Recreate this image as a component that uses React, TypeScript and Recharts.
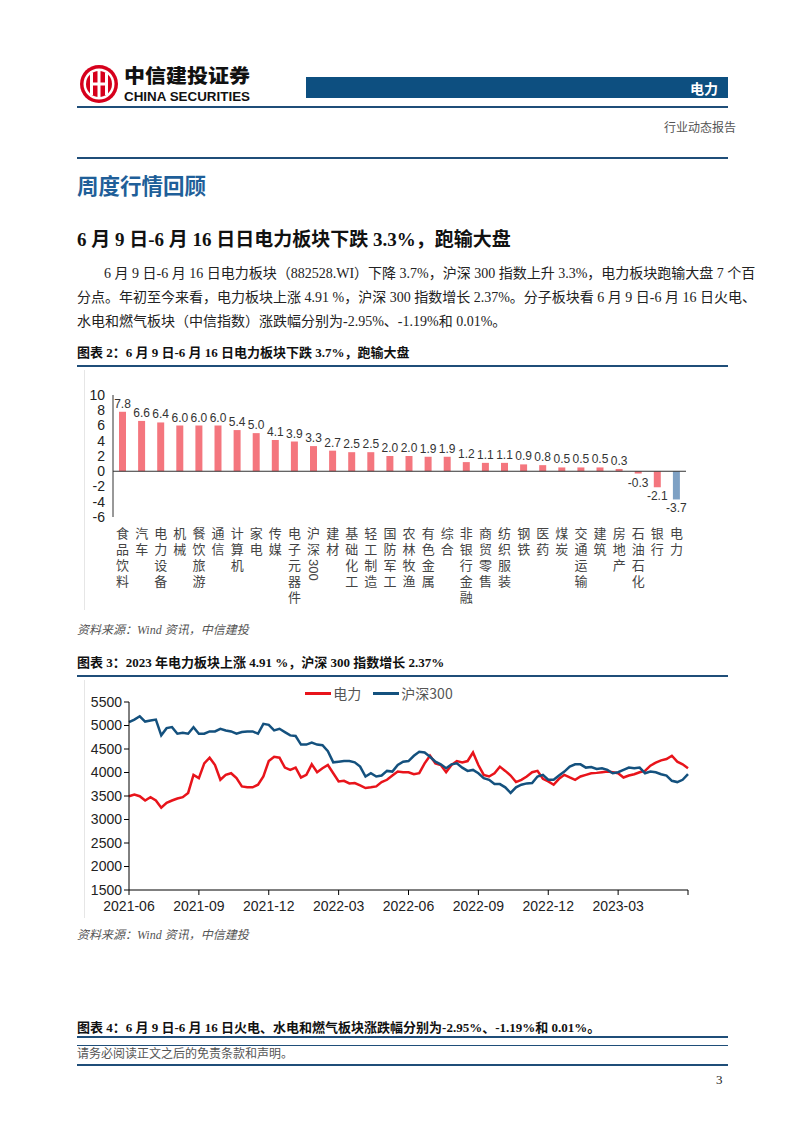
import React from "react";
import { BarChart, Bar, XAxis, YAxis, Cell, LabelList, ReferenceLine, LineChart, Line, Legend } from "recharts";

// 图表2: 行业周涨跌幅 (%)
const SECTORS = [
  "食品饮料", "汽车", "电力设备", "机械", "餐饮旅游", "通信", "计算机", "家电", "传媒", "电子元器件",
  "沪深300", "建材", "基础化工", "轻工制造", "国防军工", "农林牧渔", "有色金属", "综合", "非银行金融", "商贸零售",
  "纺织服装", "钢铁", "医药", "煤炭", "交通运输", "建筑", "房地产", "石油石化", "银行", "电力",
];
const WEEKLY_CHANGE = [
  7.8, 6.6, 6.4, 6.0, 6.0, 6.0, 5.4, 5.0, 4.1, 3.9,
  3.3, 2.7, 2.5, 2.5, 2.0, 2.0, 1.9, 1.9, 1.2, 1.1,
  1.1, 0.9, 0.8, 0.5, 0.5, 0.5, 0.3, -0.3, -2.1, -3.7,
];
const HIGHLIGHT = "电力";
const BAR_TICKS = [-6, -4, -2, 0, 2, 4, 6, 8, 10];

// 图表3: 周度收盘 (2021-06-16 ~ 2023-06-16)
const DIANLI = [
  3495, 3530, 3495, 3404, 3474, 3404, 3250, 3355, 3404, 3446,
  3474, 3565, 3950, 3880, 4195, 4314, 4160, 3845, 3950, 3985,
  3880, 3705, 3684, 3684, 3740, 3915, 4244, 4335, 4314, 4104,
  4055, 4104, 3894, 3950, 4174, 4006, 4090, 4160, 3985, 3810,
  3824, 3768, 3775, 3726, 3670, 3684, 3705, 3796, 3845, 3936,
  4020, 4006, 4006, 3964, 3985, 4195, 4356, 4195, 4160, 4006,
  4160, 4244, 4216, 4244, 4426, 4160, 3950, 3915, 3985, 4125,
  4034, 3936, 3796, 3845, 3915, 4006, 4034, 3866, 3810, 3740,
  3866, 3950, 3894, 3845, 3915, 3950, 3985, 3992, 4006, 4020,
  4006, 3985, 3894, 3936, 3964, 4006, 4034, 4146, 4209, 4258,
  4286, 4356, 4230, 4174, 4090,
];
const HS300 = [
  5070, 5126, 5196, 5084, 5105, 5126, 4790, 4944, 4965, 4825,
  4846, 4825, 4965, 4825, 4825, 4874, 4874, 4930, 4895, 4874,
  4825, 4860, 4874, 4874, 4825, 5035, 5014, 4895, 4930, 4860,
  4790, 4776, 4594, 4594, 4636, 4594, 4580, 4454, 4216, 4230,
  4244, 4244, 4216, 4125, 3915, 3985, 3915, 3936, 4034, 4020,
  4160, 4230, 4244, 4356, 4440, 4426, 4335, 4230, 4174, 4090,
  4174, 4195, 4104, 4034, 4055, 3985, 3880, 3845, 3754, 3754,
  3684, 3565, 3684, 3740, 3768, 3775, 3915, 3950, 3845, 3845,
  3936, 4020, 4125, 4174, 4174, 4104, 4118, 4076, 4090, 4055,
  3985, 4006, 4055, 4104, 4090, 4104, 3985, 4020, 4006, 3964,
  3936, 3824, 3796, 3845, 3964,
];
const QUARTER_TICKS = [0, 13, 26, 39, 52, 65, 78, 91, 104];
const QUARTER_LABELS = ["2021-06", "2021-09", "2021-12", "2022-03", "2022-06", "2022-09", "2022-12", "2023-03", ""];
const LINE_Y_TICKS = [1500, 2000, 2500, 3000, 3500, 4000, 4500, 5000, 5500];

const SERIF = "'Liberation Serif', 'Noto Sans CJK SC', serif";
const HEI = "'Noto Sans CJK SC', sans-serif";
const ARIAL = "'Liberation Sans', Arial, sans-serif";
const NAVY = "#1F4E79";

const barData = SECTORS.map((name, i) => ({ name, value: WEEKLY_CHANGE[i] }));
const lineData = DIANLI.map((v, i) => ({ week: i, dianli: v, hs300: HS300[i] }));

function Txt({ x, y, size, children, style }: any) {
  return (
    <div style={{ position: "absolute", left: x, top: y - size / 2, fontSize: size, lineHeight: `${size}px`, whiteSpace: "nowrap", ...style }}>
      {children}
    </div>
  );
}

function HLine({ y, w = 1, color = NAVY }: any) {
  return <div style={{ position: "absolute", left: 77, width: 651, top: y - w / 2, height: w, background: color }} />;
}

// 竖排类目标签，数字部分侧转且不加字距
function VerticalTick(props: any) {
  const { x, y, payload } = props;
  const parts: string[] = String(payload.value).match(/[0-9]+|[^0-9]+/g) || [];
  return (
    <text x={x} y={y + 10} fill="#444" fontSize={13} fontFamily={HEI} style={{ writingMode: "vertical-rl", letterSpacing: 3 }}>
      {parts.map((p, i) =>
        /^[0-9]+$/.test(p) ? (
          <tspan key={i} fontFamily={ARIAL} style={{ letterSpacing: 0 }}>
            {p}
          </tspan>
        ) : (
          <tspan key={i}>{p}</tspan>
        )
      )}
    </text>
  );
}

function ValueLabel(props: any) {
  const x = Number(props.x), y = Number(props.y), w = Number(props.width), h = Number(props.height);
  const v = Number(props.value);
  const top = Math.min(y, y + h);
  const bottom = Math.max(y, y + h);
  return (
    <text x={x + w / 2} y={v < 0 ? bottom + 13 : top - 4} textAnchor="middle" fontSize={12} fill="#333" fontFamily={ARIAL}>
      {v.toFixed(1)}
    </text>
  );
}

function LineLegend() {
  const items = [
    { name: "电力", color: "#E8141B" },
    { name: "沪深300", color: "#14517E" },
  ];
  return (
    <div style={{ display: "flex", justifyContent: "center", height: 18, lineHeight: "18px", fontFamily: HEI, fontSize: 14, color: "#555" }}>
      {items.map((it) => (
        <div key={it.name} style={{ display: "flex", alignItems: "center", margin: "0 6px" }}>
          <span style={{ display: "inline-block", width: 26, height: 3, background: it.color, marginRight: 2 }} />
          <span>{it.name}</span>
        </div>
      ))}
    </div>
  );
}

function Logo() {
  return (
    <svg style={{ position: "absolute", left: 76, top: 60 }} width={190} height={48}>
      <circle cx={23} cy={24} r={19} fill="#D6001C" />
      <circle cx={23} cy={24} r={15.5} fill="#fff" />
      <circle cx={23} cy={24} r={13} fill="#D6001C" />
      <rect x={14} y={13} width={3} height={22} fill="#fff" />
      <rect x={29} y={13} width={3} height={22} fill="#fff" />
      <rect x={21.5} y={10} width={3} height={28} fill="#fff" />
      <rect x={14} y={22.5} width={18} height={3} fill="#fff" />
      <text x={48} y={23} fontFamily={HEI} fontWeight={900} fontSize={19} fill="#111" textLength={126} lengthAdjust="spacingAndGlyphs">
        中信建投证券
      </text>
      <text x={48} y={41} fontFamily={ARIAL} fontWeight={700} fontSize={12.5} fill="#111" textLength={126} lengthAdjust="spacingAndGlyphs">
        CHINA SECURITIES
      </text>
    </svg>
  );
}

export default function App() {
  return (
    <div style={{ position: "absolute", left: 0, top: 0, width: 802, height: 1133, background: "#fff", overflow: "hidden" }}>
      <Logo />
      <div style={{ position: "absolute", left: 306, top: 77, width: 422, height: 21, background: "#0D4F80" }} />
      <Txt x={690} y={88} size={14} style={{ color: "#fff", fontFamily: HEI, fontWeight: 700 }}>电力</Txt>
      <HLine y={107} w={1.5} />
      <Txt x={664} y={128} size={12} style={{ color: "#555", fontFamily: SERIF }}>行业动态报告</Txt>
      <HLine y={158} w={2} />
      <Txt x={77} y={185} size={21.5} style={{ color: "#1F5F99", fontFamily: HEI, fontWeight: 700 }}>周度行情回顾</Txt>
      <Txt x={77} y={239} size={19} style={{ color: "#111", fontFamily: SERIF, fontWeight: 700 }}>
        6 月 9 日-6 月 16 日日电力板块下跌 3.3%，跑输大盘
      </Txt>

      <div style={{ position: "absolute", left: 104, width: 621, top: 264, fontSize: 14, lineHeight: "20px", fontFamily: SERIF, color: "#222", textAlign: "justify", textAlignLast: "justify", whiteSpace: "nowrap" }}>
        6 月 9 日-6 月 16 日电力板块（882528.WI）下降 3.7%，沪深 300 指数上升 3.3%，电力板块跑输大盘 7 个百
      </div>
      <div style={{ position: "absolute", left: 77, width: 648, top: 288, fontSize: 14, lineHeight: "20px", fontFamily: SERIF, color: "#222", textAlign: "justify", textAlignLast: "justify", whiteSpace: "nowrap" }}>
        分点。年初至今来看，电力板块上涨 4.91 %，沪深 300 指数增长 2.37%。分子板块看 6 月 9 日-6 月 16 日火电、
      </div>
      <div style={{ position: "absolute", left: 77, top: 312, fontSize: 14, lineHeight: "20px", fontFamily: SERIF, color: "#222", whiteSpace: "nowrap" }}>
        水电和燃气板块（中信指数）涨跌幅分别为-2.95%、-1.19%和 0.01%。
      </div>

      <Txt x={77} y={352} size={13} style={{ color: "#111", fontFamily: SERIF, fontWeight: 700 }}>
        图表 2：6 月 9 日-6 月 16 日电力板块下跌 3.7%，跑输大盘
      </Txt>
      <HLine y={366} w={2.5} />
      <div style={{ position: "absolute", left: 84, top: 370, width: 1, height: 240, background: "#e6e6e6" }} />

      <div style={{ position: "absolute", left: 60, top: 370 }}>
        <BarChart width={640} height={237} data={barData} margin={{ top: 25, right: 14, bottom: 0, left: 0 }} barSize={7}>
          <XAxis dataKey="name" interval={0} axisLine={false} tickLine={false} tickSize={0} tickMargin={0} height={90} tick={(p: any) => <VerticalTick {...p} />} />
          <YAxis domain={[-6, 10]} ticks={BAR_TICKS} interval={0} width={53} tickLine={false} axisLine={{ stroke: "#333" }} tick={{ fill: "#222", fontSize: 14, fontFamily: ARIAL }} />
          <ReferenceLine y={0} stroke="#333" />
          <Bar dataKey="value" isAnimationActive={false}>
            {barData.map((d) => (
              <Cell key={d.name} fill={d.name === HIGHLIGHT ? "#7EA1C4" : "#F4767E"} />
            ))}
            <LabelList dataKey="value" content={(p: any) => <ValueLabel {...p} />} />
          </Bar>
        </BarChart>
      </div>

      <Txt x={77} y={630} size={12} style={{ color: "#555", fontFamily: SERIF, fontStyle: "italic" }}>资料来源：Wind 资讯，中信建投</Txt>
      <Txt x={77} y={662} size={13} style={{ color: "#111", fontFamily: SERIF, fontWeight: 700 }}>
        图表 3：2023 年电力板块上涨 4.91 %，沪深 300 指数增长 2.37%
      </Txt>
      <HLine y={676} w={2.5} />
      <div style={{ position: "absolute", left: 84, top: 680, width: 1, height: 238, background: "#e6e6e6" }} />

      <div style={{ position: "absolute", left: 70, top: 677 }}>
        <LineChart width={630} height={243} data={lineData} margin={{ top: 7, right: 12, bottom: 0, left: 0 }}>
          <XAxis dataKey="week" type="number" domain={[0, 104]} ticks={QUARTER_TICKS} tickFormatter={(v: number) => QUARTER_LABELS[QUARTER_TICKS.indexOf(v)] ?? ""} height={30} stroke="#000" tickSize={5} tickMargin={6} tick={{ fill: "#222", fontSize: 14, fontFamily: ARIAL }} interval={0} />
          <YAxis domain={[1500, 5500]} ticks={LINE_Y_TICKS} width={59} stroke="#000" tickSize={5} tick={{ fill: "#222", fontSize: 14, fontFamily: ARIAL }} interval={0} />
          <Legend verticalAlign="top" content={() => <LineLegend />} />
          <Line dataKey="dianli" name="电力" stroke="#E8141B" strokeWidth={2.5} dot={false} isAnimationActive={false} />
          <Line dataKey="hs300" name="沪深300" stroke="#14517E" strokeWidth={2.5} dot={false} isAnimationActive={false} />
        </LineChart>
      </div>

      <Txt x={77} y={935} size={12} style={{ color: "#555", fontFamily: SERIF, fontStyle: "italic" }}>资料来源：Wind 资讯，中信建投</Txt>
      <Txt x={77} y={1027} size={13} style={{ color: "#111", fontFamily: SERIF, fontWeight: 700 }}>
        图表 4：6 月 9 日-6 月 16 日火电、水电和燃气板块涨跌幅分别为-2.95%、-1.19%和 0.01%。
      </Txt>
      <HLine y={1037} w={2.5} />
      <HLine y={1045} w={1} />
      <Txt x={77} y={1054} size={12} style={{ color: "#555", fontFamily: SERIF }}>请务必阅读正文之后的免责条款和声明。</Txt>
      <HLine y={1065} w={2.5} />
      <Txt x={716} y={1079} size={13} style={{ color: "#222", fontFamily: SERIF }}>3</Txt>
    </div>
  );
}
